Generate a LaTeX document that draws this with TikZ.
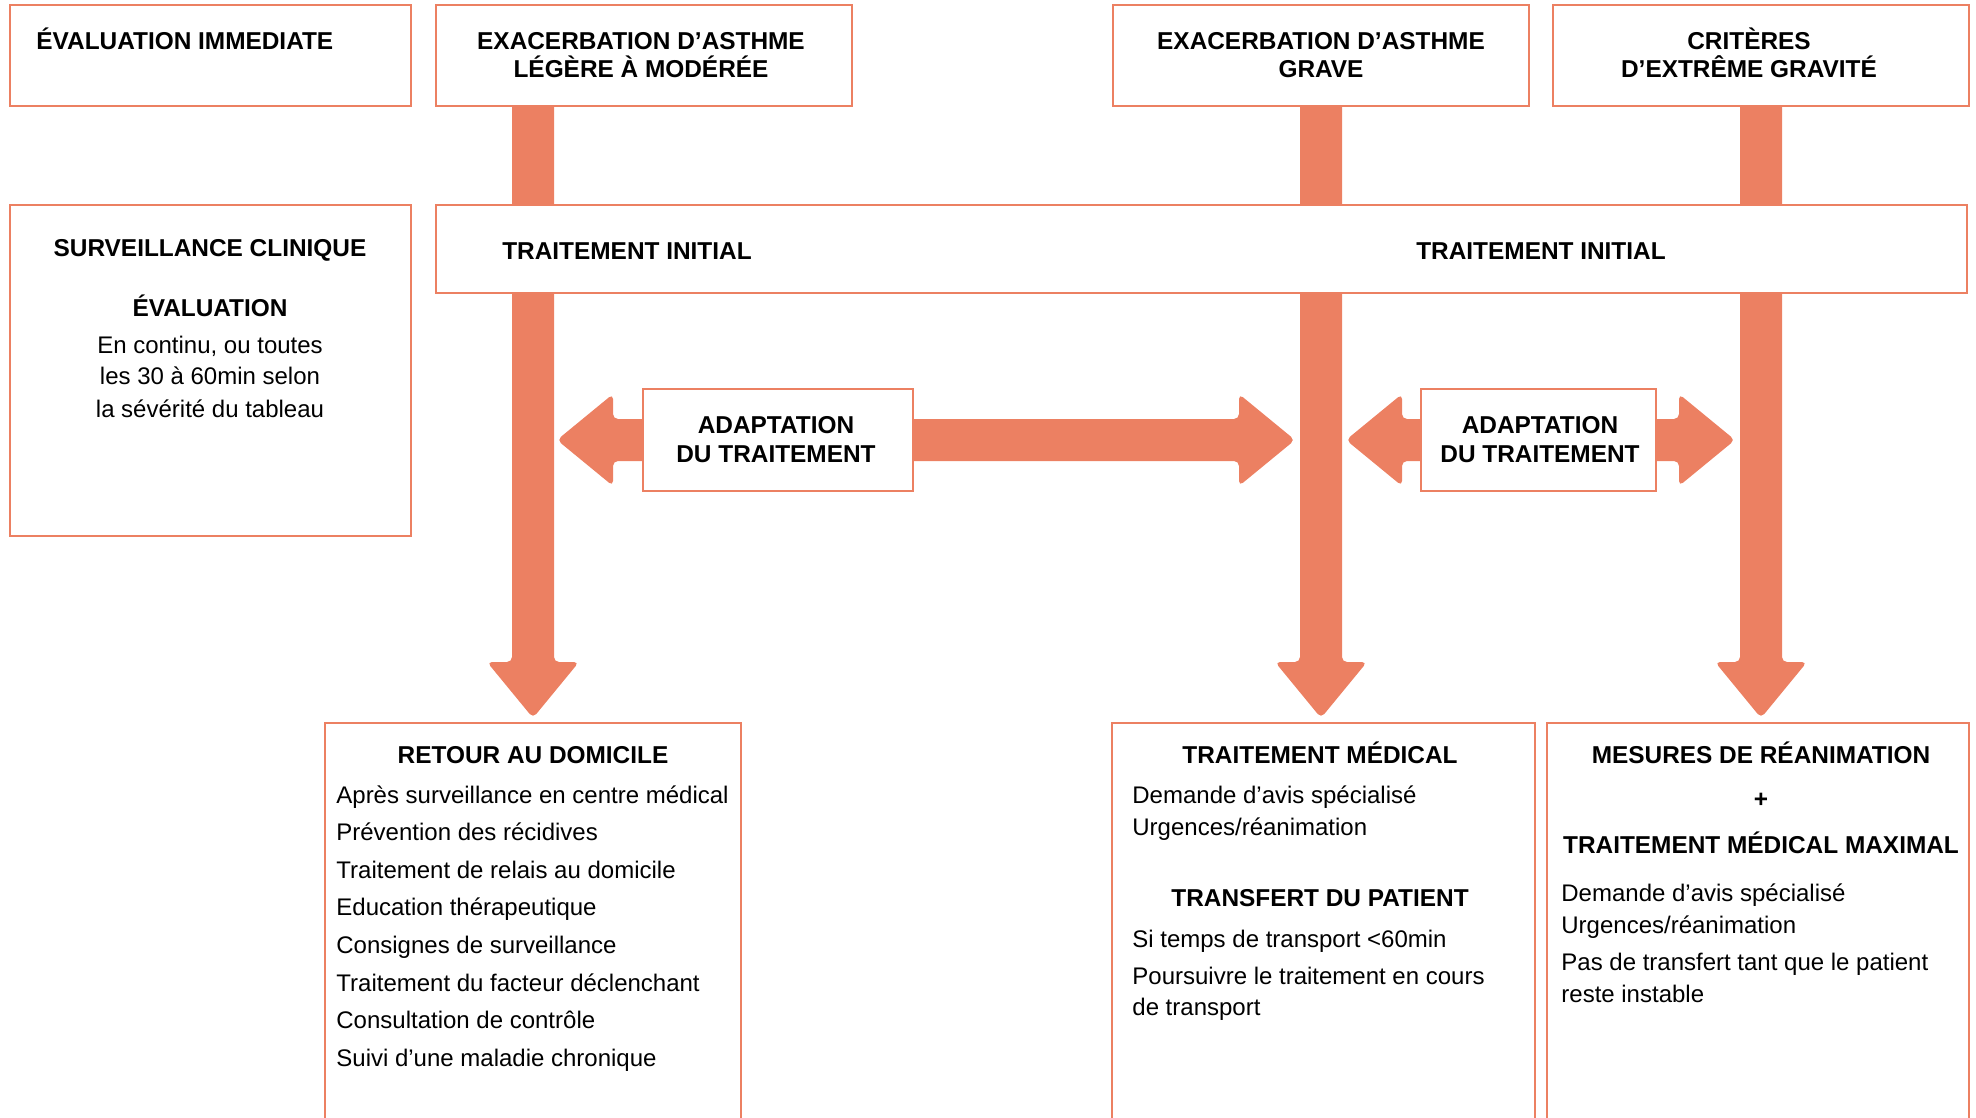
\documentclass[tikz,border=0pt]{standalone}
\usepackage{fontspec}
\setmainfont{Liberation Sans}
\usetikzlibrary{positioning,calc}
\definecolor{orng}{RGB}{236,128,98}
\pgfdeclarelayer{bg}
\pgfsetlayers{bg,main}
% wide flat arrow: #1 start, #2 tip
\newcommand{\fatarrow}[2]{%
  \coordinate (hb) at ($(#2)!28pt!(#1)$);
  \fill[fatarrow] ($(#1)!10.5pt!90:(#2)$) -- ($(hb)!10.5pt!90:(#2)$) -- ($(hb)!23pt!90:(#2)$) -- (#2)
    -- ($(hb)!23pt!-90:(#2)$) -- ($(hb)!10.5pt!-90:(#2)$) -- ($(#1)!10.5pt!-90:(#2)$) -- cycle;}

\begin{document}
\begin{tikzpicture}[x=0.5pt, y=-0.5pt, font=\fontsize{12}{15}\selectfont,
  box/.style={draw=orng, line width=1pt, fill=white, inner sep=0pt},
  ttl/.style={font=\fontsize{12.2}{15}\selectfont\bfseries, inner sep=0pt, anchor=base},
  txt/.style={inner sep=0pt, anchor=base west},
  fatarrow/.style={fill=orng, rounded corners=2.5pt}]
    \useasboundingbox (0,0) rectangle (1976,1118);
    \clip (0,0) rectangle (1976,1118);

    % top row
    \node[box, minimum width=200.5pt, minimum height=50.5pt] (eval) at (210.5,55.5) {};
    \node[box, minimum width=208pt, minimum height=50.5pt] (legere) at (644,55.5) {};
    \node[box, minimum width=208pt, minimum height=50.5pt] (grave) at (1321,55.5) {};
    \node[box, minimum width=208pt, minimum height=50.5pt] (extreme) at (1761,55.5) {};

    % middle row
    \node[box, minimum width=200.5pt, minimum height=165.5pt] (surv) at (210.5,370.5) {};
    \node[box, minimum width=765.5pt, minimum height=44pt] (init) at (1201.5,249) {};
    \node[box, minimum width=135pt, minimum height=51pt] (adapt1) at (778,440) {};
    \node[box, minimum width=117.5pt, minimum height=51pt] (adapt2) at (1538.5,440) {};

    % bottom row
    \node[box, minimum width=208pt, minimum height=210pt] (home) at (533,933) {};
    \node[box, minimum width=211.5pt, minimum height=210pt] (medic) at (1323.5,933) {};
    \node[box, minimum width=211pt, minimum height=210pt] (reanim) at (1758,933) {};

    \coordinate (tip1) at ($(home.north)+(0,-4)$);
    \coordinate (tip2) at ($(medic.north -| grave.south)+(0,-4)$);
    \coordinate (tip3) at ($(reanim.north -| extreme.south)+(0,-4)$);
    \coordinate (l1) at ($(adapt1.west -| tip1)+(24,0)$);
    \coordinate (r1) at ($(adapt1.east -| tip2)+(-26,0)$);
    \coordinate (l2) at ($(adapt2.west -| tip2)+(25,0)$);
    \coordinate (r2) at ($(adapt2.east -| tip3)+(-26,0)$);

    \begin{pgfonlayer}{bg}
        \fatarrow{legere.center -| home.north}{tip1}
        \fatarrow{grave.center}{tip2}
        \fatarrow{extreme.center}{tip3}
        \fatarrow{adapt1.center}{l1}
        \fatarrow{adapt1.center}{r1}
        \fatarrow{adapt2.center}{l2}
        \fatarrow{adapt2.center}{r2}
    \end{pgfonlayer}

    % texts
    \node[ttl, anchor=base west] (evalt) at (36,50) {ÉVALUATION IMMEDIATE};
    \node[ttl] (legt1) at (641,50) {EXACERBATION D’ASTHME};
    \node[ttl] (legt2) at (641,78) {LÉGÈRE À MODÉRÉE};
    \node[ttl] (gravt1) at (1321,50) {EXACERBATION D’ASTHME};
    \node[ttl] (gravt2) at (1321,78) {GRAVE};
    \node[ttl] (extt1) at (1749,50) {CRITÈRES};
    \node[ttl] (extt2) at (1749,78) {D’EXTRÊME GRAVITÉ};

    \node[ttl] (initt1) at (627,260) {TRAITEMENT INITIAL};
    \node[ttl] (initt2) at (1541,260) {TRAITEMENT INITIAL};

    \node[ttl] (survt1) at (210,257) {SURVEILLANCE CLINIQUE};
    \node[ttl] (survt2) at (210,316) {ÉVALUATION};
    \node[anchor=base, inner sep=0pt] (survt3) at (210,353) {En continu, ou toutes};
    \node[anchor=base, inner sep=0pt] (survt4) at (210,385) {les 30 à 60min selon};
    \node[anchor=base, inner sep=0pt] (survt5) at (210,417) {la sévérité du tableau};

    \node[ttl] (ad1a) at (776,433) {ADAPTATION};
    \node[ttl] (ad1b) at (776,462) {DU TRAITEMENT};
    \node[ttl] (ad2a) at (1540,433) {ADAPTATION};
    \node[ttl] (ad2b) at (1540,462) {DU TRAITEMENT};

    \node[ttl] (homet) at (533,763) {RETOUR AU DOMICILE};
    \foreach \s [count=\i from 0] in {Après surveillance en centre médical, Prévention des récidives,
        Traitement de relais au domicile, Education thérapeutique, Consignes de surveillance,
        Traitement du facteur déclenchant, Consultation de contrôle, Suivi d’une maladie chronique}
        \node[txt] (home\i) at (336,803+37.6*\i) {\s};

    \node[ttl] (medt1) at (1320,763) {TRAITEMENT MÉDICAL};
    \node[txt] (med1) at (1132,803) {Demande d’avis spécialisé};
    \node[txt] (med2) at (1132,835) {Urgences/réanimation};
    \node[ttl] (medt2) at (1320,906) {TRANSFERT DU PATIENT};
    \node[txt] (med3) at (1132,947) {Si temps de transport <60min};
    \node[txt] (med4) at (1132,984) {Poursuivre le traitement en cours};
    \node[txt] (med5) at (1132,1015) {de transport};

    \node[ttl] (reat1) at (1761,763) {MESURES DE RÉANIMATION};
    \node[ttl] (reaplus) at (1761,807) {+};
    \node[ttl] (reat2) at (1761,853) {TRAITEMENT MÉDICAL MAXIMAL};
    \node[txt] (rea1) at (1561,901) {Demande d’avis spécialisé};
    \node[txt] (rea2) at (1561,933) {Urgences/réanimation};
    \node[txt] (rea3) at (1561,970) {Pas de transfert tant que le patient};
    \node[txt] (rea4) at (1561,1002) {reste instable};
\end{tikzpicture}
\end{document}
